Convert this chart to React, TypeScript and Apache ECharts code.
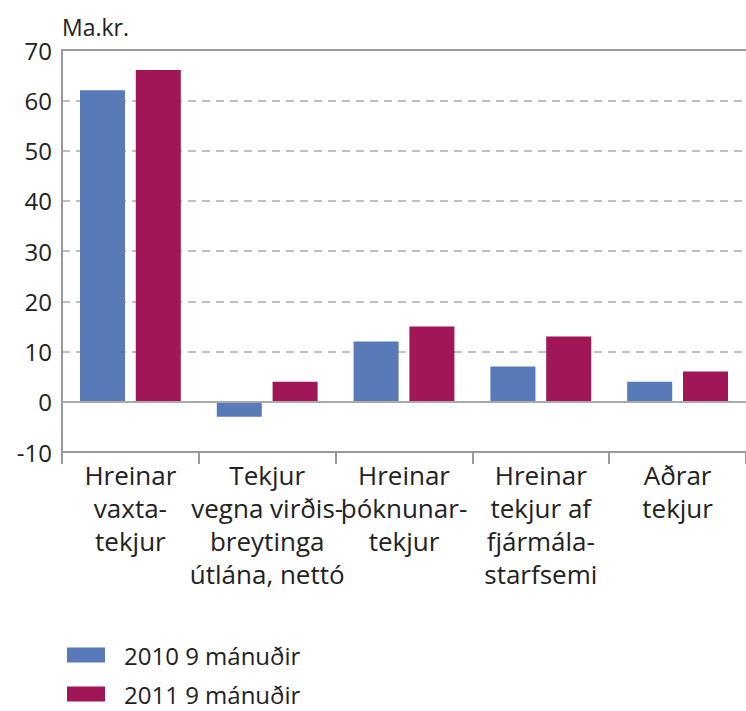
import React, { useEffect, useRef } from "react";
import * as echarts from "echarts";

const categories = [
  "Hreinar\nvaxta-\ntekjur",
  "Tekjur\nvegna virðis-\nbreytinga\nútlána, nettó",
  "Hreinar\nþóknunar-\ntekjur",
  "Hreinar\ntekjur af\nfjármála-\nstarfsemi",
  "Aðrar\ntekjur",
];
const series2010 = [62, -3, 12, 7, 4];
const series2011 = [66, 4, 15, 13, 6];
const seriesNames = ["2010 9 mánuðir", "2011 9 mánuðir"];
const unitLabel = "Ma.kr.";

const FONT = "'Open Sans', sans-serif";

export default function App() {
  const ref = useRef<HTMLDivElement>(null);
  useEffect(() => {
    document.body.style.margin = "0";
    const chart = echarts.init(ref.current!, null, { renderer: "svg" });
    const axisGrey = "#999999";
    const legendText = {
      fontFamily: FONT,
      fontSize: 24,
      lineHeight: 24,
      color: "#222",
      padding: [0, 0, 0, 14],
    };
    chart.setOption({
      animation: false,
      backgroundColor: "#ffffff",
      textStyle: { fontFamily: FONT },
      grid: { left: 62, top: 50, width: 697, height: 402 },
      legend: [
        {
          left: 67,
          top: 643,
          padding: 0,
          icon: "rect",
          itemWidth: 38,
          itemHeight: 15,
          textStyle: legendText,
          data: [seriesNames[0]],
        },
        {
          left: 67,
          top: 682,
          padding: 0,
          icon: "rect",
          itemWidth: 38,
          itemHeight: 15,
          textStyle: legendText,
          data: [seriesNames[1]],
        },
      ],
      xAxis: [
        {
          type: "category",
          data: categories,
          position: "bottom",
          axisLine: { onZero: false, lineStyle: { color: axisGrey, width: 2 } },
          axisTick: { show: true, length: 12, lineStyle: { color: axisGrey, width: 2 } },
          axisLabel: {
            interval: 0,
            margin: 6,
            fontFamily: FONT,
            fontSize: 26,
            lineHeight: 33,
            color: "#222",
          },
        },
        {
          type: "category",
          data: categories,
          position: "top",
          axisLine: { onZero: false, lineStyle: { color: axisGrey, width: 2 } },
          axisTick: { show: false },
          axisLabel: { show: false },
        },
      ],
      yAxis: {
        type: "value",
        min: -10,
        max: 70,
        interval: 10,
        name: unitLabel,
        nameLocation: "end",
        nameGap: 12,
        nameTextStyle: { fontFamily: FONT, fontSize: 23, color: "#222", align: "left" },
        axisLine: { show: true, lineStyle: { color: axisGrey, width: 2 } },
        axisTick: { show: false },
        axisLabel: { fontFamily: FONT, fontSize: 24, color: "#222", margin: 10 },
        splitLine: { lineStyle: { color: "#aaaaaa", type: [8, 6], width: 1.5 } },
      },
      series: [
        {
          name: seriesNames[0],
          type: "bar",
          data: series2010,
          barWidth: 45,
          barGap: "24%",
          itemStyle: { color: "#587ab9" },
          markLine: {
            silent: true,
            symbol: "none",
            label: { show: false },
            lineStyle: { color: "#aaaaaa", type: "solid", width: 2 },
            data: [{ yAxis: 0 }],
          },
        },
        {
          name: seriesNames[1],
          type: "bar",
          data: series2011,
          barWidth: 45,
          itemStyle: { color: "#a01656" },
        },
      ],
    });
    return () => chart.dispose();
  }, []);
  return <div ref={ref} style={{ width: 746, height: 711 }} />;
}
